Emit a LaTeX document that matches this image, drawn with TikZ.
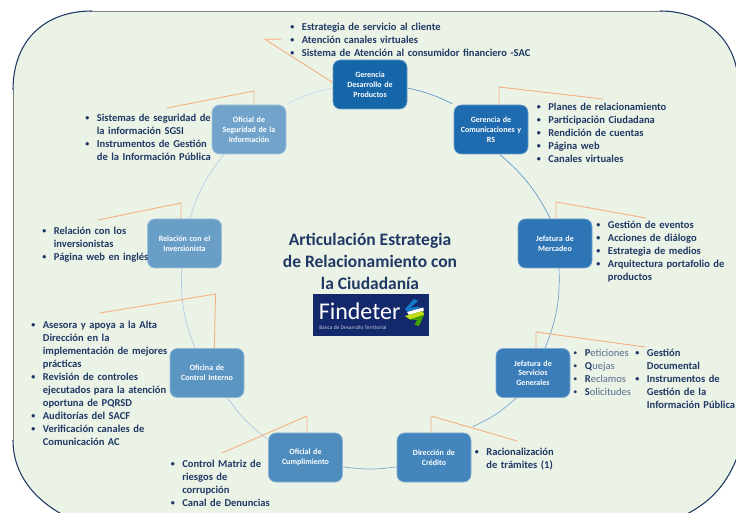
\documentclass[tikz,border=0pt]{standalone}
\usepackage{fontspec}
\setmainfont{Carlito}
\usetikzlibrary{calc}
\definecolor{txt}{HTML}{1F3864}
\definecolor{bgfill}{HTML}{EBF3E7}
\definecolor{orangeln}{HTML}{F4B183}
\definecolor{logobg}{HTML}{14296B}
\definecolor{cA}{HTML}{1565A9}
\definecolor{cB}{HTML}{1F6BB0}
\definecolor{cC}{HTML}{2E75B6}
\definecolor{cD}{HTML}{3A7DB8}
\definecolor{cE}{HTML}{4385BC}
\definecolor{cF}{HTML}{4F8CBE}
\definecolor{cG}{HTML}{5B95C2}
\definecolor{cH}{HTML}{699EC7}
\definecolor{cI}{HTML}{72A4CB}
\newlength{\hangw}
\setlength{\hangw}{8.7pt}
\newcommand{\bitem}[1]{\par\leftskip=\hangw\noindent\llap{\makebox[\hangw][l]{\fontsize{6}{7}\selectfont\raisebox{.4pt}{•}}}#1\par}
\tikzset{
  x=0.75pt,y=-0.75pt,
  unit/.style={rounded corners=5.5pt,minimum width=55.5pt,minimum height=36.75pt,inner sep=0pt,text width=53pt,align=center,text=white,
     font=\fontsize{6}{7.3}\selectfont\bfseries,draw=white!35!#1,line width=.5pt,fill=#1},
  lead/.style={draw=orangeln,line width=.7pt},
  ring/.style={line width=.5pt,draw=#1},
  blist/.style={anchor=north west,inner sep=0pt,text=txt,font=\fontsize{7.9}{9.75}\selectfont\bfseries,align=left,text width=#1},
}
\begin{document}
\begin{tikzpicture}
\useasboundingbox (0,0) rectangle (736,513);
\begin{scope}
\clip (0,0) rectangle (736,513);
\fill[bgfill] (13,90) .. controls (13,40) and (45,11) .. (92,11) -- (660,11) .. controls (705,11) and (736,40) .. (738,80) -- (738,455) .. controls (725,490) and (705,505) .. (683,516) -- (65,516) .. controls (35,500) and (13,475) .. (13,440) -- cycle;
\draw[line width=.7pt,color=gray] (92,11) -- (660,11);
\draw[line width=.7pt,color=gray] (13,90) -- (13,440);
\draw[line width=.8pt,color=txt] (13,90) .. controls (13,40) and (45,11) .. (92,11);
\draw[line width=.8pt,color=txt] (660,11) .. controls (705,11) and (736,40) .. (738,80);
\draw[line width=.8pt,color=txt] (738,455) .. controls (725,490) and (705,505) .. (683,516);
\draw[line width=.8pt,color=txt] (65,516) .. controls (35,500) and (13,475) .. (13,440);
\end{scope}

% units
\node[unit=cA] (gd) at (370,84.5) {Gerencia\\Desarrollo de\\Productos};
\node[unit=cB] (gc) at (491,129.5) {Gerencia de\\Comunicaciones y\\RS};
\node[unit=cC] (jm) at (555,243.5) {Jefatura de\\Mercadeo};
\node[unit=cD] (js) at (533,373) {Jefatura de\\Servicios\\Generales};
\node[unit=cE] (dc) at (434,457.5) {Dirección de\\Crédito};
\node[unit=cF] (oc) at (305.5,457.5) {Oficial de\\Cumplimiento};
\node[unit=cG] (ci) at (207,373) {Oficina de\\Control Interno};
\node[unit=cH] (ri) at (184.5,243.5) {Relación con el\\Inversionista};
\node[unit=cI] (os) at (249,129.5) {Oficial de\\Seguridad de la\\Información};

% ring connectors
\draw[ring=cA!70] ([yshift=-2.6pt]gd.east) to[bend left=7] ([xshift=-1pt,yshift=.7pt]gc.north west);
\draw[ring=cB!70] ([xshift=6.5pt]gc.south) to[bend left=11] ([xshift=-3.5pt]jm.north);
\draw[ring=cC!70] ([xshift=3pt]jm.south) to[bend left=12] ([xshift=9pt]js.north);
\draw[ring=cD!70] ([xshift=-12.5pt]js.south) to[bend left=9] ([xshift=1pt,yshift=4.5pt]dc.north east);
\draw[ring=cE!70] ([yshift=-7pt]dc.west) to[bend left=8] ([yshift=-7pt]oc.east);
\draw[ring=cF!50] ([xshift=-1pt,yshift=-4.5pt]oc.north west) to[bend left=9] ([xshift=-12.5pt]ci.south east);
\draw[ring=cG!50] ([xshift=-9pt]ci.north) to[bend left=12] ([xshift=-2pt]ri.south);
\draw[ring=cH!50] ([xshift=4pt]ri.north) to[bend left=11] ([xshift=-18.5pt]os.south);
\draw[ring=cI!40] ([xshift=1pt,yshift=.7pt]os.north east) to[bend left=7] ([yshift=-2.6pt]gd.west);

% leader free ends
\coordinate (k1) at (265,39.3); \coordinate (e1) at (282,39);
\coordinate (k2) at (254,91);   \coordinate (e2) at (167,108);
\coordinate (k3) at (499,87);   \coordinate (e3) at (603,99);
\coordinate (k4) at (556,202);  \coordinate (e4) at (646,218);
\coordinate (k5) at (181,203);  \coordinate (e5) at (98,220);
\coordinate (k6) at (215.5,294);\coordinate (e6) at (100,313);
\coordinate (k7) at (307,416);  \coordinate (e7) at (222,453);
\coordinate (k8) at (431,416);  \coordinate (e8) at (517,441);
\coordinate (k9) at (536,332);  \coordinate (e9) at (645,347);
\draw[lead] ([yshift=1.5pt]gd.west) -- (k1) -- (e1);
\draw[lead] (os.north -| k2) -- (k2) -- (e2);
\draw[lead] (gc.north -| k3) -- (k3) -- (e3);
\draw[lead] (jm.north -| k4) -- (k4) -- (e4);
\draw[lead] (ri.north -| k5) -- (k5) -- (e5);
\draw[lead] ([xshift=5.5pt]ci.north) -- (k6) -- (e6);
\draw[lead] (oc.north -| k7) -- (k7) -- (e7);
\draw[lead] (dc.north -| k8) -- (k8) -- (e8);
\draw[lead] (js.north -| k9) -- (k9) -- (e9);

% bullet lists
\node[blist=200pt] (l1) at (290,17) {\bitem{Estrategia de servicio al cliente}\bitem{Atención canales virtuales}\bitem{Sistema de Atención al consumidor financiero -SAC}};
\node[blist=120pt] (l2) at (85,108) {\bitem{Sistemas de seguridad de\\la información SGSI}\bitem{Instrumentos de Gestión\\de la Información Pública}};
\node[blist=120pt] (l3) at (536.5,97) {\bitem{Planes de relacionamiento}\bitem{Participación Ciudadana}\bitem{Rendición de cuentas}\bitem{Página web}\bitem{Canales virtuales}};
\node[blist=120pt] (l4) at (596,215) {\bitem{Gestión de eventos}\bitem{Acciones de diálogo}\bitem{Estrategia de medios}\bitem{Arquitectura portafolio de\\productos}};
\node[blist=100pt] (l5) at (42,221) {\bitem{Relación con los\\inversionistas}\bitem{Página web en inglés}};
\node[blist=120pt] (l6) at (31,315) {\bitem{Asesora y apoya a la Alta\\Dirección en la\\implementación de mejores\\prácticas}\bitem{Revisión de controles\\ejecutados para la atención\\oportuna de PQRSD}\bitem{Auditorías del SACF}\bitem{Verificación canales de\\Comunicación AC}};
\node[blist=100pt] (l7) at (170.5,454) {\bitem{Control Matriz de\\riesgos de\\corrupción}\bitem{Canal de Denuncias}};
\node[blist=80pt] (l8) at (474.5,442) {\bitem{Racionalización\\de trámites (1)}};
\node[blist=60pt,font=\fontsize{7.9}{9.75}\selectfont] (l9) at (573,343) {\bitem{\textbf{P}\textcolor{txt!75}{eticiones}}\bitem{\textbf{Q}\textcolor{txt!75}{uejas}}\bitem{\textbf{R}\textcolor{txt!75}{eclamos}}\bitem{\textbf{S}\textcolor{txt!75}{olicitudes}}};
\node[blist=95pt] (l10) at (635,343) {\bitem{Gestión\\Documental}\bitem{Instrumentos de\\Gestión de la\\Información Pública}};

% title
\node[inner sep=0pt,align=center,text=txt,font=\fontsize{13.1}{16.2}\selectfont\bfseries] (title) at (370,261.5) {Articulación Estrategia\\de Relacionamiento con\\la Ciudadanía};

% logo
\node[fill=logobg,minimum width=87pt,minimum height=31.5pt,inner sep=0pt] (logo) at (371,315) {};
\node[anchor=west,inner sep=0pt,text=white,font=\fontsize{18}{20}\selectfont] (fname) at (318.5,311.5) {Findeter};
\node[anchor=west,inner sep=0pt,text=white!75!logobg,font=\fontsize{4.1}{5}\selectfont] (fsub) at (319,328) {Banca de Desarrollo Territorial};
\fill[cyan!60!blue] (414,299) -- (418,301) -- (410,308) -- (418,306.5) -- (420,308) -- (407,311.5) -- (405,309) -- cycle;
\fill[white] (407,312) -- (423,307.5) -- (424,310.5) -- (409,315) -- cycle;
\fill[yellow!75!green] (405,316) -- (423,311) -- (424,315) -- (410,319.5) -- cycle;
\fill[green!50!black!75!yellow] (410,319.5) -- (424,315) -- (419,326) -- (414.5,325) -- (417,320) -- cycle;
\end{tikzpicture}
\end{document}
